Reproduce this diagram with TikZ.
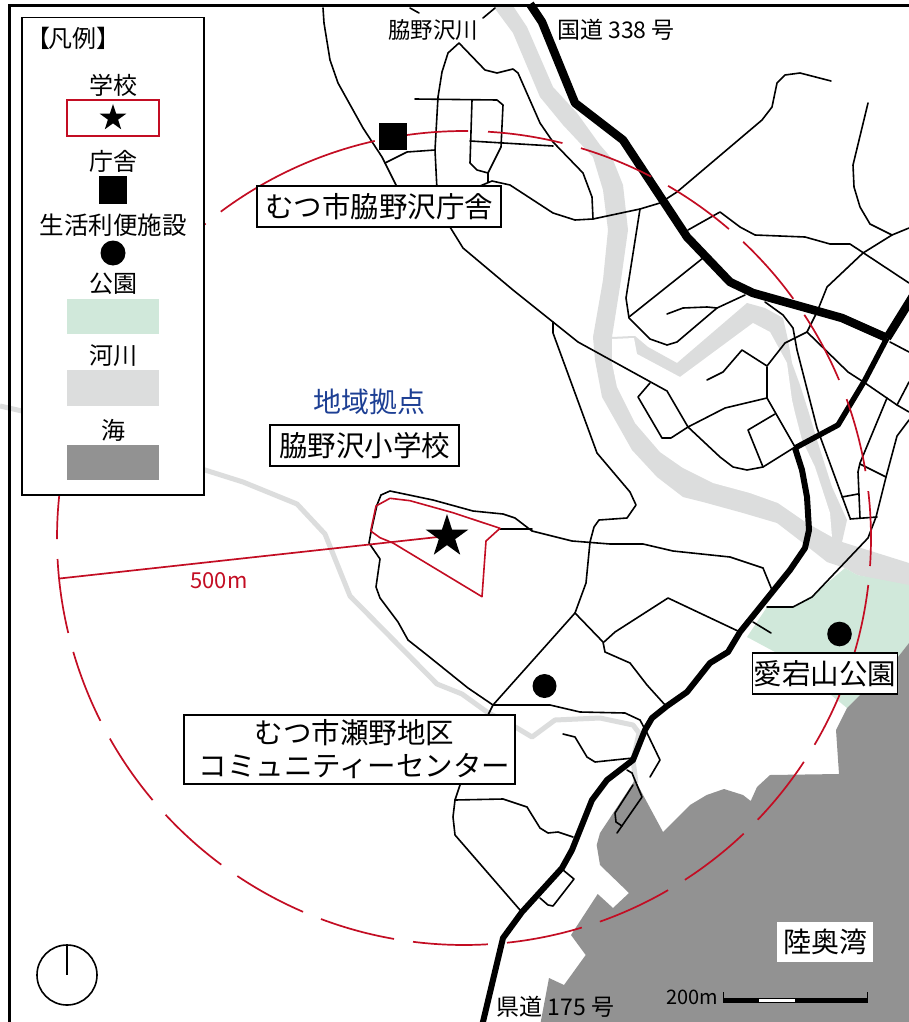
\documentclass[tikz,border=0pt]{standalone}
\usepackage{fontspec}
\setmainfont{Noto Sans CJK JP}
\usetikzlibrary{shapes.geometric}
\definecolor{riverc}{HTML}{DCDDDD}
\definecolor{parkc}{HTML}{D0E8DA}
\definecolor{seac}{HTML}{929292}
\definecolor{redc}{HTML}{C30D23}
\definecolor{bluec}{HTML}{1D3F94}
\newcommand{\fsz}[1]{\fontsize{#1}{#1}\selectfont}
\tikzset{
  road/.style={draw=black,line width=1.6pt,line join=round,line cap=round},
  hwy/.style={draw=black,line join=round},
  rad/.style={draw=redc,line width=1.7pt},
  labelbox/.style={draw=black,fill=white,line width=1.6pt,inner sep=0pt,align=center,font=\fsz{28.5}},
  txt/.style={inner sep=0pt,font=\fsz{24},text=black},
  starmark/.style={star,star points=5,star point ratio=2.618,fill=black,draw=none,inner sep=0pt},
}
\begin{document}
\begin{tikzpicture}[x=1pt,y=-1pt]
\useasboundingbox (0,0) rectangle (909,1022);
\clip (0,0) rectangle (909,1022);
\fill[white] (0,0) rectangle (909,1022);
% rivers
\fill[riverc] (493,6)--(513,33)--(540,97)--(563,125)--(593,157)--(603,190)--(608,230)--(603,280)--(593,337)--(595,360)--(602,397)--(632,450)--(657,477)--(683,497)--(703,502)--(743,513)--(777,523)--(803,543)--(827,562)--(845,568)--(857,575)--(909,587)--(909,563)--(842,542)--(847,520)--(832,487)--(817,440)--(808,410)--(800,385)--(792,363)--(788,340)--(783,318)--(765,308)--(747,303)--(677,363)--(648,347)--(635,336)--(633,336)--(612,337)--(621,280)--(628,230)--(623,185)--(613,160)--(600,145)--(577,113)--(553,87)--(527,27)--(513,6)--cycle;
\fill[white] (612,339)--(634,338)--(637,354)--(680,377)--(753,323)--(770,332)--(787,363)--(792,400)--(795,413)--(802,440)--(815,467)--(830,513)--(832,537)--(807,523)--(778,503)--(750,493)--(713,483)--(683,468)--(660,452)--(635,423)--(617,387)--(612,363)--cycle;
\draw[riverc,line width=5pt,line join=round] (0,406)--(22,411)--(205,470)--(243,482)--(297,504)--(325,534)--(350,596)--(437,684)--(462,694)--(487,712)--(517,728)--(532,737)--(555,720)--(600,718)--(633,725)--(639,733)--(633,760)--(636,783);
% park
\fill[parkc] (747,637)--(775,652)--(825,690)--(847,708)--(898,657)--(909,643)--(909,585)--(857,575)--(845,568)--(813,595)--(793,607)--(767,607)--cycle;
% sea
\fill[seac] (909,643)--(898,657)--(847,708)--(836,730)--(839,774)--(770,775)--(757,787)--(750.7,801)--(743,795)--(724,789)--(706.7,795)--(690,805)--(663,832)--(635,780)--(600,833)--(596.7,845)--(600,865)--(629,893)--(613,908)--(597.7,894)--(571,935)--(585.7,955)--(564,985)--(549,978)--(540.7,1022)--(909,1022)--cycle;
% thin roads
\foreach \p in {
 {(323,8)--(324,23)--(330,60)--(338,83)--(363,128)--(382,157)--(397,187)--(430,225)--(450,227)--(463,248)--(513,290)--(553,322)--(578,342)--(667,391)--(688,427)--(720,457)--(733,467)--(747,470)--(763,467)--(795,447)},
 {(410,8)--(419,13)},
 {(483,18)--(495,8)},
 {(437,190)--(435,150)--(438,97)--(442,72)--(448,53)--(459,43)--(485,70)--(497,73)--(513,69)--(518,73)--(540,123)--(553,142)--(583,173)--(592,197)--(593,219)},
 {(415,99)--(497,100)--(503,105)--(501,147)--(488,173)--(477,170)--(470,163)--(472,100)},
 {(470,141)--(553,146)},
 {(385,163)--(407,152)--(435,150)},
 {(488,173)--(488,182)},
 {(480,186)--(492,181)--(510,185)--(553,213)--(575,220)--(593,219)--(640,209)--(660,203)--(677,192)--(762,120)--(772,107)--(777,83)--(785,75)--(800,73)--(831,81)},
 {(640,209)--(626,298)--(629,318)--(650,339)--(667,345)--(677,342)--(717,308)--(745,295)},
 {(629,317)--(703,258)},
 {(667,314)--(683,308)--(707,307)--(717,308)},
 {(688,230)--(720,212)--(740,227)--(755,235)--(805,237)--(830,244)--(850,244)--(909,283)},
 {(868,103)--(853,165)--(854,187)--(860,207)--(870,224)--(892,235)},
 {(909,228)--(892,235)--(863,253)--(827,287)--(817,312)--(807,332)},
 {(807,332)--(785,343)--(767,366)--(742,350)--(723,372)--(707,380)},
 {(765,302)--(783,315)--(793,328)--(797,350)--(817,428)--(850,518)},
 {(807,332)--(848,372)--(865,383)--(897,405)--(909,412)},
 {(890,342)--(909,352)},
 {(909,382)--(897,405)},
 {(887,398)--(860,463)--(858,472)--(860,518)},
 {(909,420)--(897,436)--(886,477)--(876,517)--(868,538)--(812,597)--(793,607)--(767,607)},
 {(860,464)--(886,477)},
 {(842,497)--(858,494)},
 {(850,519)--(877,517)},
 {(650,383)--(638,397)--(662,438)--(671,438)--(688,427)--(725,408)--(767,398)},
 {(767,367)--(767,398)--(795,447)},
 {(775,414)--(748,430)--(763,467)},
 {(553,322)--(553,333)--(597,453)--(630,492)--(636,505)--(627,518)--(599,520)--(594,527)--(590,542)--(586,583)--(575,613)},
 {(532,531)--(515,518)--(503,514)--(473,511)--(433,500)--(390,491)--(381,495)--(377,505)--(371,532)--(369,543)--(380,559)--(376,587)--(380,598)--(398,622)--(408,640)--(427,655)--(468,688)--(493,705)--(575,613)},
 {(500,529)--(532,529)},
 {(532,531)--(572,541)--(610,544)--(643,544)--(673,551)--(730,557)--(763,568)--(772,590)},
 {(575,613)--(603,642)--(605,652)--(630,663)--(647,685)--(666,706)},
 {(604,642)--(615,632)--(668,598)--(740,632)},
 {(753,622)--(771,633)},
 {(493,705)--(550,705)--(580,712)--(625,713)--(640,720)--(647,733)--(660,760)--(650,777)},
 {(488,715)--(493,705)},
 {(563,734)--(575,737)--(587,757)--(595,762)--(633,758)},
 {(460,785)--(455,800)--(453,817)--(455,835)--(520,910)},
 {(455,800)--(503,799)--(527,807)--(540,828)--(548,833)--(558,832)--(573,837)},
 {(627,770)--(632,773)--(642,797)--(617,833)},
 {(633,785)--(615,813)--(616,822)--(622,826)},
 {(563,870)--(574,879)--(553,906)--(548,905)--(540,898)}
}{\draw[road] \p;}
% main roads
\draw[hwy,line width=8.5pt] (530,4)--(542,22)--(575,103)--(623,140)--(687,237)--(730,282)--(753,293)--(842,318)--(887,338);
\draw[hwy,line width=8.5pt] (913,296)--(887,338);
\draw[hwy,line width=5.5pt] (887,338)--(865,380)--(847,410)--(838,425)--(795,448);
\draw[hwy,line width=6pt] (795,448)--(802,470)--(807,497)--(809,530)--(805,548)--(790,570)--(740,632)--(728,652)--(710,663)--(687,692)--(667,706)--(652,718)--(645,730)--(633,760)--(607,780)--(592,800)--(572,850)--(562,868)--(522,912)--(503,938)--(482,1026);
% school ground and radius
\draw[redc,line width=1.6pt,line join=round] (370.7,531)--(376,506)--(390,498.3)--(410,500.7)--(453,512.7)--(500,528.3)--(486,541)--(482,596.7)--(393,543)--(380,537.7)--cycle;
\coordinate (radiusend) at (59.5,578.5);
\coordinate (radiuscentre) at (447,536);
\draw[rad] (radiusend)--(radiuscentre);
\foreach \xa/\ya/\xb/\yb in {
 488/945/413/942, 394/939/321/919, 303/912/237/876.5, 221/865/165.7/814.6,
 152.7/800/110/738.5, 100/721/73/652, 68/633/57.7/559, 57/539/206/224,
 221/212/375/142, 407/136/468/131, 488/132/562/145, 581/148/651/177,
 668/186/729/229, 743/242/793/299, 804/315/839/380, 847/399/866/471,
 869/491/870/566, 868/585/815/745, 804/762/758/820, 744/834/685/880,
 668/890/600/922, 582/928/507/943}{
 \pgfmathsetmacro\aa{atan2(\ya-538,\xa-464)}
 \pgfmathsetmacro\bb{atan2(\yb-538,\xb-464)}
 \pgfmathsetmacro\bb{\bb<\aa ? \bb+360 : \bb}
 \draw[rad] (464,538) ++(\aa:407) arc[start angle=\aa,end angle=\bb,radius=407];
}
% markers
\node[starmark,minimum size=45pt] (schoolstar) at (447,536.5) {};
\fill[black] (379,123) rectangle (406.7,150.3);
\fill[black] (544.5,686) circle (12);
\fill[black] (839.5,634) circle (12.3);
% labels
\node[labelbox,minimum width=244pt,minimum height=41pt] (chosha) at (379,206.5) {むつ市脇野沢庁舎};
\node[labelbox,minimum width=189.5pt,minimum height=41pt] (school) at (364.5,445.5) {脇野沢小学校};
\node[txt,font=\fsz{28},text=bluec] (kyoten) at (369,402) {地域拠点};
\node[labelbox,minimum width=331pt,minimum height=69pt,font=\fontsize{28.5}{33}\selectfont] (center) at (349.5,749.5) {\hspace*{10pt}むつ市瀬野地区\\\hspace*{10pt}コミュニティーセンター};
\node[labelbox,minimum width=145pt,minimum height=41pt] (atago) at (825,673.5) {愛宕山公園};
\node[fill=white,inner sep=0pt,minimum width=96pt,minimum height=40pt,font=\fsz{28}] (mutsu) at (825,941.7) {陸奥湾};
\node[txt,font=\fsz{22.5}] (kawa) at (433,30) {脇野沢川};
\node[txt,font=\fsz{23}] (kokudo) at (616,30) {国道 338 号};
\node[txt,font=\fsz{23}] (kendo) at (555.5,1007) {県道 175 号};
\node[txt,font=\fsz{22},text=redc] (fivehundred) at (219,581) {500m};
\node[txt,font=\fsz{20}] (twohundred) at (692,997) {200m};
% scale bar
\fill[black] (722.7,998) rectangle (867.7,1003.3);
\fill[white] (759,999.3) rectangle (795,1002);
\draw[black,line width=1pt] (723,992)--(723,1003) (867.3,992)--(867.3,1003);
% north mark
\draw[black,line width=1.6pt] (67,975) circle (30);
\draw[black,line width=1.6pt] (67,945)--(67,975);
% legend
\draw[black,fill=white,line width=1.6pt] (22,17.5) rectangle (204,495);
\node[txt,anchor=west] (hanrei) at (26,38) {【\kern-2pt 凡例】};
\node[txt] (lgakko) at (113,85) {学校};
\draw[redc,fill=white,line width=1.5pt] (67,100) rectangle (159,136);
\node[starmark,minimum size=28pt] (lstar) at (113,118) {};
\node[txt] (lchosha) at (113,161) {庁舎};
\fill[black] (99,176) rectangle (127,204);
\node[txt,font=\fsz{24.5}] (lseikatsu) at (113,225) {生活利便施設};
\fill[black] (113,253) circle (12.5);
\node[txt] (lkoen) at (113,284) {公園};
\fill[parkc] (67,299) rectangle (159,334);
\node[txt] (lkasen) at (113,356) {河川};
\fill[riverc] (67,370) rectangle (159,406);
\node[txt] (lumi) at (113,430) {海};
\fill[seac] (67,445) rectangle (159,480);
% frame
\draw[black,line width=3pt] (9.5,1022)--(9.5,6)--(909,6);
\end{tikzpicture}
\end{document}
